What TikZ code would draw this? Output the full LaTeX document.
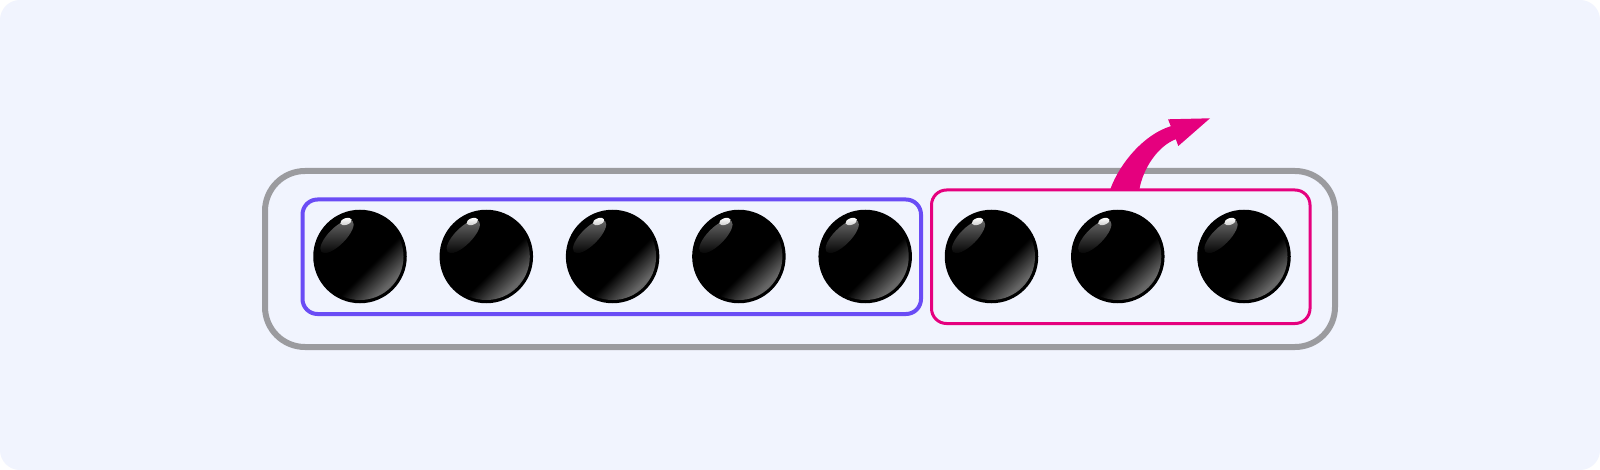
\documentclass[tikz,border=0pt]{standalone}
\usepackage{tikz}
\usetikzlibrary{calc}

\definecolor{bgcol}{HTML}{F1F4FE}
\definecolor{framegray}{HTML}{9B9B9F}
\definecolor{fiveblue}{HTML}{6A4CF5}
\definecolor{threepink}{HTML}{E5007E}

\pgfdeclareverticalshading{beadglow}{100bp}{color(0bp)=(gray!80!black); color(27bp)=(gray!80!black); color(42bp)=(black); color(100bp)=(black)}

\begin{document}
\begin{tikzpicture}[x=1pt, y=-1pt,
    bead/.style={circle, draw=black, line width=1.5pt, fill=black, minimum size=92, inner sep=0pt},
    groupbox/.style={rectangle, rounded corners=15, outer sep=0pt, inner sep=0pt},
    glow/.style={shading=beadglow, shading angle=45},
    shine/.style={top color=gray!85!black, bottom color=black, shading angle=0}]
            % background
            \useasboundingbox (0,0) rectangle (1600,470);
            \fill[white] (0,0) rectangle (1600,470);
            \fill[bgcol, rounded corners=20] (0,0) rectangle (1600,470);

            % outer frame
            \node[draw=framegray, line width=6pt, rounded corners=40, minimum width=1070, minimum height=176] (frame) at (800,259) {};

            % group of five and group of three
            \node[groupbox, draw=fiveblue, line width=4pt, minimum width=618.5, minimum height=114.5] (five) at (611.75,256.75) {};
            \node[groupbox, draw=threepink, line width=3pt, minimum width=378.5, minimum height=133.5] (three) at (1120.75,256.75) {};

            % beads
            \node[bead] (b1) at (360,256.5) {};
            \node[bead] (b2) at (486.3,256.5) {};
            \node[bead] (b3) at (612.6,256.5) {};
            \node[bead] (b4) at (738.9,256.5) {};
            \node[bead] (b5) at (865.2,256.5) {};
            \node[bead] (b6) at (991.5,256.5) {};
            \node[bead] (b7) at (1117.8,256.5) {};
            \node[bead] (b8) at (1244,256.5) {};

            % gloss on the beads
            \foreach \b in {b1,b2,b3,b4,b5,b6,b7,b8} {
                \begin{scope}[shift={(\b.center)}]
                    \shade[glow] (0,0) circle (43.5);
                    \begin{scope}[shift={(-23,-20)}, rotate=45]
                        \shade[shine] (0,0) ellipse [x radius=22, y radius=8.5];
                    \end{scope}
                    \begin{scope}[shift={(-14,-35)}, rotate=20]
                        \shade[top color=white, bottom color=gray!40] (0,0) ellipse [x radius=6, y radius=3.3];
                    \end{scope}
                \end{scope}
            }

            % arrow out of the three
            \coordinate (tip) at (1210,118.3);
            \fill[threepink] ([xshift=-10.75pt]three.north) .. controls (1120,162) and (1145,134) .. (1170.8,126.2)
                -- (1168,119.3) -- (tip) -- (1178.3,146) -- (1175.8,139.2)
                .. controls (1158,146) and (1143,168) .. ([xshift=18.5pt]three.north) -- cycle;
        \end{tikzpicture}
\end{document}
